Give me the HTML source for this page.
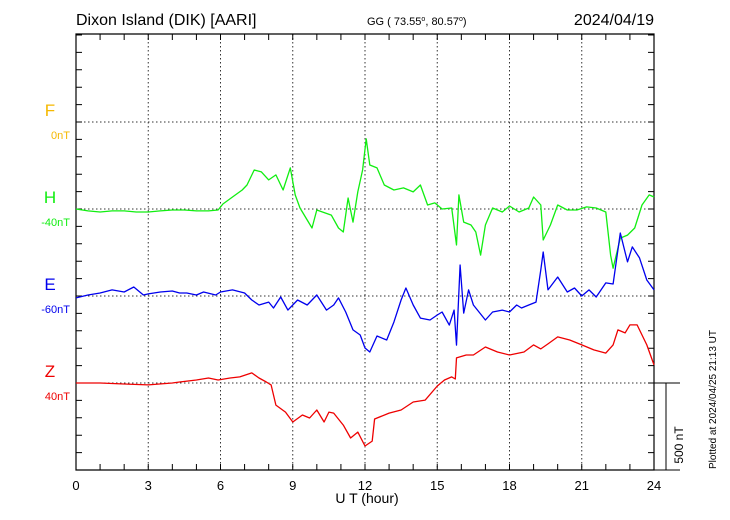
<!DOCTYPE html>
<html><head><meta charset="utf-8"><style>
body{margin:0;background:#fff;}
svg{display:block;font-family:"Liberation Sans",sans-serif;}
</style></head><body>
<svg id="c" width="730" height="520" viewBox="0 0 730 520" xmlns="http://www.w3.org/2000/svg">
<text x="76" y="25" font-size="16">Dixon Island (DIK)  [AARI]</text>
<text x="367" y="25" font-size="11">GG ( 73.55<tspan dy="-4" font-size="7">o</tspan><tspan dy="4">,  80.57</tspan><tspan dy="-4" font-size="7">o</tspan><tspan dy="4">)</tspan></text>
<text x="654" y="25" font-size="16" text-anchor="end">2024/04/19</text>
<text x="367" y="503" font-size="14" text-anchor="middle">U T (hour)</text>
<text transform="translate(716,469) rotate(-90)" font-size="10">Plotted at 2024/04/25 21:13 UT</text>
<text transform="translate(683,445) rotate(-90)" font-size="12" text-anchor="middle">500 nT</text>
<g id="grid"></g><g id="axes"></g><g id="series"></g><g id="labels"></g>
</svg>
<script>
const hoursH=[0,0.5,1,1.5,2,2.5,3,3.5,4,4.5,5,5.5,5.9,6.1,6.5,6.9,7.1,7.4,7.7,8.0,8.3,8.6,8.9,9.1,9.3,9.6,9.8,10.0,10.6,10.9,11.1,11.3,11.5,11.7,11.9,12.05,12.2,12.5,12.8,13.2,13.6,14.0,14.3,14.6,14.9,15.2,15.6,15.8,15.9,16.1,16.4,16.6,16.8,17.0,17.3,17.7,18.0,18.4,18.8,19.0,19.3,19.4,19.7,20.0,20.4,20.8,21.2,21.6,22.0,22.2,22.3,22.6,22.9,23.2,23.5,23.8,24.0];
const valuesH=[0,-11,-17,-11,-11,-17,-17,-11,-6,-6,-11,-11,-6,29,69,109,138,224,213,167,196,109,236,81,6,-63,-109,-6,-35,-109,-132,63,-75,98,224,403,253,236,138,109,121,98,138,23,35,0,6,-207,81,-75,-92,-132,-265,-92,6,-17,17,-17,6,69,23,-178,-92,23,-6,-6,12,6,-17,-265,-340,-167,-150,-109,23,81,69];
const hoursE=[0,0.5,1,1.5,2,2.4,2.8,3,3.5,4,4.3,4.6,5,5.3,5.8,6,6.5,7.0,7.3,7.6,8.0,8.2,8.5,8.8,9.2,9.6,10.0,10.4,10.7,10.9,11.2,11.5,11.8,12.0,12.2,12.5,12.9,13.2,13.5,13.7,14.0,14.3,14.7,15.0,15.2,15.5,15.7,15.8,15.95,16.1,16.3,16.5,17.0,17.3,17.7,18.0,18.3,18.5,18.8,19.1,19.3,19.4,19.6,20.0,20.4,20.7,21.0,21.3,21.6,22.0,22.3,22.6,22.9,23.1,23.4,23.7,24];
const valuesE=[-11,6,17,35,23,52,6,12,23,29,17,17,6,23,6,23,35,17,-23,-52,-35,-69,-6,-81,-23,-52,6,-81,-52,-11,-92,-195,-224,-299,-322,-230,-253,-150,-23,46,-52,-127,-138,-109,-92,-167,-81,-282,178,-98,35,-52,-138,-92,-81,-92,-52,-69,-52,-35,150,253,35,109,23,46,0,35,-6,75,69,362,196,282,219,92,35];
const hoursZ=[0,1,2,3,4,4.3,5,5.5,5.9,6.4,6.8,7.3,7.6,7.9,8.1,8.3,8.7,9.0,9.4,9.7,10.0,10.3,10.5,10.7,11.1,11.4,11.7,12.0,12.3,12.4,13.0,13.5,14.0,14.5,15.0,15.3,15.6,15.75,15.8,16.2,16.5,17.0,17.5,18.0,18.6,19.0,19.3,19.6,20.0,20.5,21.0,21.5,22.0,22.3,22.5,22.8,23.0,23.3,23.7,24];
const valuesZ=[0,0,-6,-11,0,6,17,29,17,29,35,58,29,6,-11,-127,-167,-224,-184,-201,-155,-224,-167,-173,-242,-316,-282,-362,-334,-207,-173,-155,-109,-98,-17,17,35,23,144,161,161,207,178,161,178,219,196,225,265,247,219,190,172,219,305,288,334,334,219,104];
const xTicks=[0,3,6,9,12,15,18,21,24];
const traceNames=['F','H','E','Z'];
const traceOffsets=['0nT','-40nT','-60nT','40nT'];
const traceColors=['#f5b800','#11ee11','#0000ee','#ee0000'];

const X0=76,X1=654,Y0=34,Y1=470,BASE=[122,209,296,383],PXNT=87/500;
const xs=h=>X0+(X1-X0)*h/24;
const ys=(i,v)=>BASE[i]-v*PXNT;
const NS='http://www.w3.org/2000/svg';
function mk(p,t,a){const e=document.createElementNS(NS,t);for(const k in a)e.setAttribute(k,a[k]);p.appendChild(e);return e;}
const grid=document.getElementById('grid'),axes=document.getElementById('axes'),ser=document.getElementById('series'),lab=document.getElementById('labels');
xTicks.forEach(h=>{if(h>0&&h<24){const l=mk(grid,'line',{x1:xs(h),x2:xs(h),y1:Y0,y2:Y1,stroke:'#333','stroke-dasharray':'1.5,2.5','stroke-width':1});

}
const t=mk(axes,'text',{x:xs(h),y:490,'font-size':13,'text-anchor':'middle'});t.textContent=h;

});
BASE.forEach(b=>{const l=mk(grid,'line',{x1:X0,x2:X1,y1:b,y2:b,stroke:'#333','stroke-dasharray':'1.5,2.5','stroke-width':1});

});
const frame=mk(axes,'path',{d:`M${X0},${Y0}H${X1}V${Y1}H${X0}Z`,fill:'none',stroke:'#000','stroke-width':1.2});


let d='';
for(let h=0;h<=24;h++){const x=xs(h);d+=`M${x},${Y1}v-6M${x},${Y0}v6`;}
for(let y=Y1;y>=Y0;y-=87/5){d+=`M${X0},${y}h6M${X1},${y}h-6`;}
d+=`M${X1},${Y1}H680M${X1},383H680M666,383V${Y1}`;
const tk=mk(axes,'path',{d:d,stroke:'#000','stroke-width':1,fill:'none'});


function drawSeries(i,hs,vs,name){let p='',pen=false;
for(let k=0;k<hs.length;k++){if(vs[k]===null)continue;p+=(pen?'L':'M')+xs(hs[k]).toFixed(1)+','+ys(i,vs[k]).toFixed(1);pen=true;}
const e=mk(ser,'path',{d:p,fill:'none',stroke:traceColors[i],'stroke-width':1.3,'stroke-linejoin':'round'});

}
drawSeries(1,hoursH,valuesH,'h-component-line');
drawSeries(2,hoursE,valuesE,'e-component-line');
drawSeries(3,hoursZ,valuesZ,'z-component-line');
traceNames.forEach((n,i)=>{const t=mk(lab,'text',{x:50,y:BASE[i]-6,'font-size':17,'text-anchor':'middle',fill:traceColors[i]});t.textContent=n;


const o=mk(lab,'text',{x:70,y:BASE[i]+17,'font-size':11,'text-anchor':'end',fill:traceColors[i]});o.textContent=traceOffsets[i];

});
</script>
</body></html>
